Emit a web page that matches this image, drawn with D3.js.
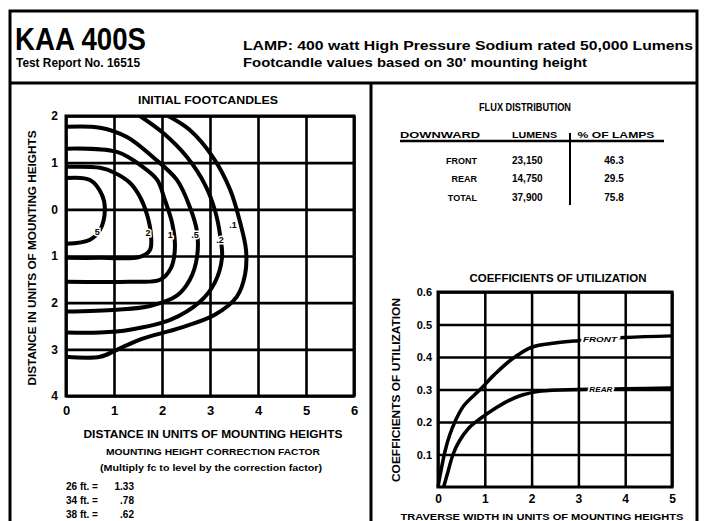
<!DOCTYPE html>
<html><head><meta charset="utf-8">
<script src="https://cdn.jsdelivr.net/npm/d3@7"></script>
<style>
body{margin:0;background:#fff}
svg{display:block}
text{font-family:"Liberation Sans",Arial,sans-serif;font-weight:bold;fill:#000}
</style>
</head><body>
<svg id="c" width="705" height="521"></svg>
<script>
// ---------- DATA ----------
const headerTitle = "KAA 400S";
const headerReport = "Test Report No. 16515";
const headerLamp = "LAMP: 400 watt High Pressure Sodium rated 50,000 Lumens";
const headerBasis = "Footcandle values based on 30' mounting height";

// Isofootcandle chart
const isoXTicks = [0, 1, 2, 3, 4, 5, 6];
const isoYTicks = [2, 1, 0, -1, -2, -3, -4];
const isoYTickLabels = ["2", "1", "0", "1", "2", "3", "4"];
const contourLevels = ["5", "2", "1", ".5", ".2", ".1"];
const contour5 = [[0,0.67],[0.5,0.63],[0.75,0.31],[0.81,-0.01],[0.71,-0.44],[0.5,-0.65],[0,-0.74]];
const contour2 = [[0,0.91],[0.71,0.89],[1.02,0.78],[1.33,0.57],[1.54,0.27],[1.69,-0.12],[1.77,-0.55],[1.75,-0.87],[1.54,-1.02],[0.71,-1.04],[0,-1.04]];
const contour1 = [[0,1.30],[1.06,1.23],[1.6,0.91],[1.9,0.63],[2.06,0.2],[2.21,-0.29],[2.27,-0.8],[2.19,-1.25],[1.96,-1.51],[1.33,-1.55],[0,-1.55]];
const contour05 = [[0,1.77],[0.71,1.75],[1.27,1.55],[1.81,1.12],[2.31,0.63],[2.58,0.05],[2.73,-0.48],[2.73,-1.02],[2.58,-1.51],[2.31,-1.85],[1.75,-2.07],[1.06,-2.15],[0,-2.19]];
const contour02 = [[1.54,2.0],[2.02,1.64],[2.52,1.12],[2.9,0.52],[3.1,-0.01],[3.21,-0.55],[3.25,-1.04],[3.1,-1.57],[2.79,-1.98],[2.17,-2.37],[1.33,-2.58],[0.71,-2.64],[0,-2.64]];
const contour01 = [[2.13,2.0],[2.58,1.70],[3.06,1.12],[3.42,0.42],[3.63,-0.29],[3.75,-0.87],[3.73,-1.40],[3.56,-1.87],[3.1,-2.26],[2.38,-2.54],[1.54,-2.79],[1.06,-3.01],[0.71,-3.16],[0,-3.16]];
const contourLabelPos = [[0.65,-0.48],[1.71,-0.5],[2.17,-0.55],[2.69,-0.55],[3.21,-0.65],[3.48,-0.33]];

const correctionLines = [["26 ft. =", "1.33"], ["34 ft. =", ".78"], ["38 ft. =", ".62"]];

// Flux distribution table
const fluxHeaders = ["DOWNWARD", "LUMENS", "% OF LAMPS"];
const fluxRows = ["FRONT", "REAR", "TOTAL"];
const fluxLumens = ["23,150", "14,750", "37,900"];
const fluxPercent = ["46.3", "29.5", "75.8"];

// Coefficients of utilization
const cuXTicks = [0, 1, 2, 3, 4, 5];
const cuYTicks = [0.1, 0.2, 0.3, 0.4, 0.5, 0.6];
const cuFront = [[0,0],[0.05,0.04],[0.15,0.11],[0.25,0.16],[0.36,0.2],[0.55,0.25],[0.9,0.3],[1.2,0.345],[1.55,0.39],[2,0.43],[2.5,0.443],[3,0.45],[4,0.46],[5,0.465]];
const cuRear = [[0.12,0],[0.2,0.04],[0.32,0.1],[0.45,0.14],[0.65,0.18],[0.9,0.21],[1.2,0.24],[1.5,0.265],[1.8,0.283],[2.2,0.295],[3,0.3],[4,0.302],[5,0.305]];
const cuLabels = ["FRONT", "REAR"];
const cuLabelX = [3.46, 3.48];

// ---------- DRAW ----------
const svg = d3.select("#c");

// frame
svg.append("rect").attr("x",10).attr("y",11).attr("width",687).attr("height",530)
  .attr("fill","none").attr("stroke","#000").attr("stroke-width",3);
svg.append("line").attr("x1",10).attr("x2",697).attr("y1",83).attr("y2",83).attr("stroke","#000").attr("stroke-width",3);
svg.append("line").attr("x1",371).attr("x2",371).attr("y1",83).attr("y2",521).attr("stroke","#000").attr("stroke-width",3);

// header
svg.append("text").attr("x",15).attr("y",50).attr("font-size",31).attr("textLength",131).attr("lengthAdjust","spacingAndGlyphs").text(headerTitle);
svg.append("text").attr("x",16).attr("y",67).attr("font-size",12).attr("textLength",124).attr("lengthAdjust","spacingAndGlyphs").text(headerReport);
svg.append("text").attr("x",243).attr("y",50).attr("font-size",13).attr("textLength",450).attr("lengthAdjust","spacingAndGlyphs").text(headerLamp);
svg.append("text").attr("x",243).attr("y",67).attr("font-size",13).attr("textLength",344).attr("lengthAdjust","spacingAndGlyphs").text(headerBasis);

// ---------- Isofootcandle chart ----------
const xL = d3.scaleLinear().domain([0,6]).range([66,354]);
const yL = d3.scaleLinear().domain([2,-4]).range([116,396]);
const gL = svg.append("g");

gL.append("text").attr("x",208).attr("y",104).attr("text-anchor","middle").attr("font-size",11)
  .attr("textLength",140).attr("lengthAdjust","spacingAndGlyphs").text("INITIAL FOOTCANDLES");

const axBL = gL.append("g").attr("transform","translate(0,396)")
  .call(d3.axisBottom(xL).tickValues(isoXTicks).tickSize(280).tickPadding(8).tickFormat(d3.format("d")));
axBL.selectAll(".tick line").attr("y2",-280).attr("stroke","#000").attr("stroke-width",2.6);
axBL.selectAll(".tick text").attr("y",10).attr("font-size",13).attr("font-family","Liberation Sans, Arial").attr("font-weight","bold");
axBL.select(".domain").remove();

const axLL = gL.append("g").attr("transform","translate(66,0)")
  .call(d3.axisLeft(yL).tickValues(isoYTicks).tickSize(0).tickPadding(8).tickFormat((d,i)=>isoYTickLabels[i]));
axLL.selectAll(".tick line").attr("x2",288).attr("stroke","#000").attr("stroke-width",2.6);
axLL.selectAll(".tick text").attr("font-size",12).attr("font-family","Liberation Sans, Arial").attr("font-weight","bold");
axLL.select(".domain").remove();

gL.append("rect").attr("x",xL(0)).attr("y",yL(2)).attr("width",xL(6)-xL(0)).attr("height",yL(-4)-yL(2))
  .attr("fill","none").attr("stroke","#000").attr("stroke-width",3);

svg.append("clipPath").attr("id","clipL").append("rect")
  .attr("x",xL(0)).attr("y",yL(2)).attr("width",xL(6)-xL(0)).attr("height",yL(-4)-yL(2));

const lineL = d3.line().x(d=>xL(d[0])).y(d=>yL(d[1])).curve(d3.curveCatmullRom.alpha(0.5));
const contours = [contour5, contour2, contour1, contour05, contour02, contour01];
gL.append("g").attr("clip-path","url(#clipL)").selectAll("path").data(contours).join("path")
  .attr("d",lineL).attr("fill","none").attr("stroke","#000").attr("stroke-width",4);

gL.selectAll("text.cl").data(contourLevels).join("text").attr("class","cl")
  .attr("x",(d,i)=>xL(contourLabelPos[i][0])).attr("y",(d,i)=>yL(contourLabelPos[i][1]))
  .attr("text-anchor","middle").attr("dy","0.35em").attr("font-size",9)
  .attr("stroke","#fff").attr("stroke-width",3).attr("paint-order","stroke").text(d=>d);

gL.append("text").attr("transform","translate(36,258) rotate(-90)").attr("text-anchor","middle")
  .attr("font-size",10).attr("textLength",255).attr("lengthAdjust","spacingAndGlyphs")
  .text("DISTANCE IN UNITS OF MOUNTING HEIGHTS");
gL.append("text").attr("x",213).attr("y",438).attr("text-anchor","middle").attr("font-size",11)
  .attr("textLength",259).attr("lengthAdjust","spacingAndGlyphs").text("DISTANCE IN UNITS OF MOUNTING HEIGHTS");
gL.append("text").attr("x",213).attr("y",455).attr("text-anchor","middle").attr("font-size",9)
  .attr("textLength",214).attr("lengthAdjust","spacingAndGlyphs").text("MOUNTING HEIGHT CORRECTION FACTOR");
gL.append("text").attr("x",211).attr("y",471).attr("text-anchor","middle").attr("font-size",9)
  .attr("textLength",222).attr("lengthAdjust","spacingAndGlyphs").text("(Multiply fc to level by the correction factor)");
gL.selectAll("text.cf").data(correctionLines).join("text").attr("class","cf")
  .attr("x",66).attr("y",(d,i)=>490+i*14).attr("font-size",10).text(d=>d[0]);
gL.selectAll("text.cv").data(correctionLines).join("text").attr("class","cv")
  .attr("x",134).attr("y",(d,i)=>490+i*14).attr("text-anchor","end").attr("font-size",10).text(d=>d[1]);

// ---------- Flux table ----------
const gT = svg.append("g");
gT.append("text").attr("x",525).attr("y",111).attr("text-anchor","middle").attr("font-size",10)
  .attr("textLength",92).attr("lengthAdjust","spacingAndGlyphs").text("FLUX DISTRIBUTION");
const colX = [400, 512, 616];
gT.selectAll("text.fh").data(fluxHeaders).join("text").attr("class","fh")
  .attr("x",(d,i)=>colX[i]).attr("y",138).attr("font-size",9)
  .attr("text-anchor",(d,i)=>i===2?"middle":"start")
  .attr("textLength",(d,i)=>[80,45,77][i]).attr("lengthAdjust","spacingAndGlyphs").text(d=>d);
gT.append("line").attr("x1",400).attr("x2",664).attr("y1",141).attr("y2",141).attr("stroke","#000").attr("stroke-width",2.5);
gT.append("line").attr("x1",570).attr("x2",570).attr("y1",133).attr("y2",205).attr("stroke","#000").attr("stroke-width",2);
const rowY = [164, 182, 201];
gT.selectAll("text.fr").data(fluxRows).join("text").attr("class","fr")
  .attr("x",477).attr("y",(d,i)=>rowY[i]).attr("text-anchor","end").attr("font-size",9).text(d=>d);
gT.selectAll("text.fl").data(fluxLumens).join("text").attr("class","fl")
  .attr("x",512).attr("y",(d,i)=>rowY[i]).attr("font-size",10).text(d=>d);
gT.selectAll("text.fp").data(fluxPercent).join("text").attr("class","fp")
  .attr("x",614).attr("y",(d,i)=>rowY[i]).attr("text-anchor","middle").attr("font-size",10).text(d=>d);

// ---------- Coefficients of utilization ----------
const xR = d3.scaleLinear().domain([0,5]).range([438,672]);
const yR = d3.scaleLinear().domain([0,0.6]).range([487,292]);
const gR = svg.append("g");
gR.append("text").attr("x",558).attr("y",282).attr("text-anchor","middle").attr("font-size",10)
  .attr("textLength",177).attr("lengthAdjust","spacingAndGlyphs").text("COEFFICIENTS OF UTILIZATION");

const axBR = gR.append("g").attr("transform","translate(0,487)")
  .call(d3.axisBottom(xR).tickValues(cuXTicks).tickSize(0).tickPadding(7).tickFormat(d3.format("d")));
axBR.selectAll(".tick line").attr("y2",-195).attr("stroke","#000").attr("stroke-width",2.5);
axBR.selectAll(".tick text").attr("font-size",12).attr("font-family","Liberation Sans, Arial").attr("font-weight","bold");
axBR.select(".domain").remove();

const axLR = gR.append("g").attr("transform","translate(438,0)")
  .call(d3.axisLeft(yR).tickValues(cuYTicks).tickSize(0).tickPadding(6).tickFormat(d3.format(".1f")));
axLR.selectAll(".tick line").attr("x2",234).attr("stroke","#000").attr("stroke-width",2.5);
axLR.selectAll(".tick text").attr("font-size",11).attr("font-family","Liberation Sans, Arial").attr("font-weight","bold");
axLR.select(".domain").remove();

gR.append("rect").attr("x",xR(0)).attr("y",yR(0.6)).attr("width",xR(5)-xR(0)).attr("height",yR(0)-yR(0.6))
  .attr("fill","none").attr("stroke","#000").attr("stroke-width",3);

const lineR = d3.line().x(d=>xR(d[0])).y(d=>yR(d[1])).curve(d3.curveCatmullRom.alpha(0.5));
gR.selectAll("path.cu").data([cuFront, cuRear]).join("path").attr("class","cu")
  .attr("d",lineR).attr("fill","none").attr("stroke","#000").attr("stroke-width",3.5);

const cuSeries = [cuFront, cuRear];
gR.selectAll("text.cul").data(cuLabels).join("text").attr("class","cul")
  .attr("x",(d,i)=>xR(cuLabelX[i])).attr("y",(d,i)=>{
     const s = cuSeries[i]; const xv = cuLabelX[i];
     const j = s.findIndex(p=>p[0]>=xv); const a=s[j-1], b=s[j];
     return yR(a[1]+(b[1]-a[1])*(xv-a[0])/(b[0]-a[0]));
  })
  .attr("dy","0.35em").attr("text-anchor","middle").attr("font-size",8).attr("font-style","italic")
  .attr("textLength",(d,i)=>[34,23][i]).attr("lengthAdjust","spacingAndGlyphs")
  .attr("stroke","#fff").attr("stroke-width",4).attr("paint-order","stroke").text(d=>d);

gR.append("text").attr("transform","translate(400,390) rotate(-90)").attr("text-anchor","middle")
  .attr("font-size",10).attr("textLength",184).attr("lengthAdjust","spacingAndGlyphs").text("COEFFICIENTS OF UTILIZATION");
gR.append("text").attr("x",542).attr("y",520).attr("text-anchor","middle").attr("font-size",9)
  .attr("textLength",283).attr("lengthAdjust","spacingAndGlyphs").text("TRAVERSE WIDTH IN UNITS OF MOUNTING HEIGHTS");
</script>
</body></html>
